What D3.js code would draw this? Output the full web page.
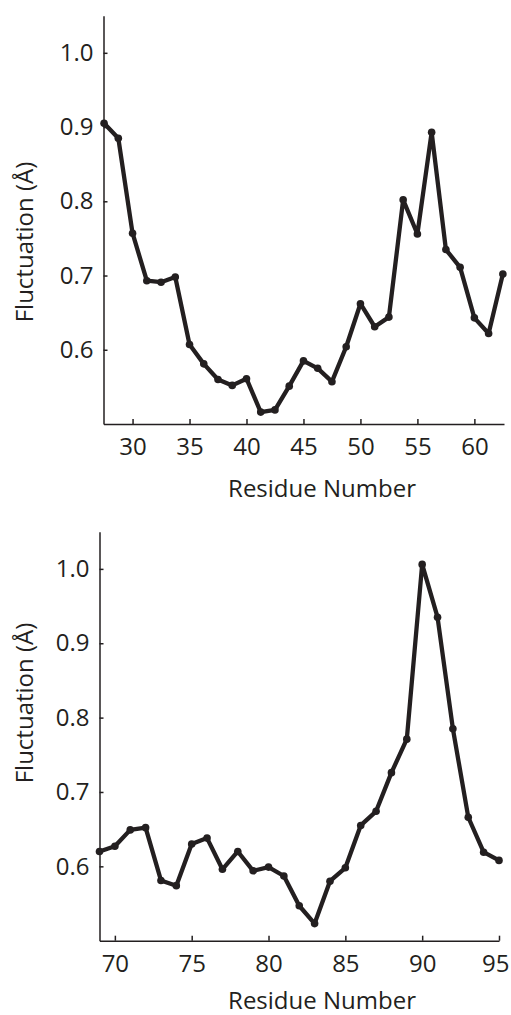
<!DOCTYPE html>
<html>
<head>
<meta charset="utf-8">
<script src="https://cdn.jsdelivr.net/npm/d3@7"></script>
<style>
  html, body { margin: 0; padding: 0; background: #fff; }
  svg { display: block; }
  text { font-family: "Open Sans", "Noto Sans", sans-serif; fill: #231f20; }
</style>
</head>
<body>
<svg id="chart" width="511" height="1015"></svg>
<script>
// Residue fluctuation profiles for two segments of the chain.
const residuesA = [27.5, 28.75, 30, 31.25, 32.5, 33.75, 35, 36.25, 37.5, 38.75, 40, 41.25,
  42.5, 43.75, 45, 46.25, 47.5, 48.75, 50, 51.25, 52.5, 53.75, 55, 56.25, 57.5, 58.75,
  60, 61.25, 62.5];
const fluctA = [0.905, 0.885, 0.757, 0.693, 0.691, 0.698, 0.607, 0.581, 0.560, 0.552,
  0.561, 0.516, 0.519, 0.551, 0.585, 0.575, 0.557, 0.604, 0.662, 0.631, 0.644, 0.802,
  0.756, 0.893, 0.735, 0.711, 0.643, 0.622, 0.702];
const ticksXA = [30, 35, 40, 45, 50, 55, 60];

const residuesB = [69, 70, 71, 72, 73, 74, 75, 76, 77, 78, 79, 80, 81, 82, 83, 84, 85,
  86, 87, 88, 89, 90, 91, 92, 93, 94, 95];
const fluctB = [0.620, 0.627, 0.649, 0.652, 0.581, 0.574, 0.630, 0.638, 0.596, 0.620,
  0.594, 0.599, 0.587, 0.547, 0.523, 0.580, 0.598, 0.655, 0.674, 0.726, 0.771, 1.006,
  0.935, 0.785, 0.666, 0.619, 0.608];
const ticksXB = [70, 75, 80, 85, 90, 95];

const ticksY = [0.6, 0.7, 0.8, 0.9, 1.0];
const yLabel = "Fluctuation (Å)";
const xLabel = "Residue Number";

const ink = "#231f20";
const width = 511;
const svg = d3.select("#chart");

function panel(cfg) {
  const x = d3.scaleLinear().domain(cfg.xDomain).range([cfg.left, cfg.right]);
  const y = d3.scaleLinear().domain([0.5, 1.05]).range([cfg.bottom, cfg.top]);
  const g = svg.append("g");

  const xAxis = g.append("g")
    .attr("transform", `translate(0,${cfg.bottom})`)
    .call(d3.axisBottom(x).tickValues(cfg.xTicks).tickFormat(d3.format("d"))
      .tickSizeInner(-5).tickSizeOuter(0).tickPadding(14));
  const yAxis = g.append("g")
    .attr("transform", `translate(${cfg.left},0)`)
    .call(d3.axisLeft(y).tickValues(ticksY).tickFormat(d3.format(".1f"))
      .tickSizeInner(-4).tickSizeOuter(0).tickPadding(10));

  [xAxis, yAxis].forEach(a => {
    a.select(".domain").attr("stroke", ink).attr("stroke-width", 1.5);
    a.selectAll(".tick line").attr("stroke", ink).attr("stroke-width", 1.5);
    a.selectAll(".tick text").attr("fill", ink)
      .style("font-family", '"Open Sans", sans-serif').style("font-size", "24px");
  });

  // keep the last tick label inside the drawing area
  xAxis.selectAll(".tick").each(function (d) {
    const t = d3.select(this).select("text");
    const bb = t.node().getBBox();
    const right = x(d) + bb.x + bb.width;
    if (right > width - 2) t.attr("x", (width - 2) - right);
  });

  const pts = cfg.xs.map((r, i) => [r, cfg.ys[i]]);
  g.append("path")
    .datum(pts)
    .attr("fill", "none")
    .attr("stroke", ink)
    .attr("stroke-width", 4.3)
    .attr("stroke-linejoin", "round")
    .attr("d", d3.line().x(d => x(d[0])).y(d => y(d[1])));

  g.selectAll("circle.pt")
    .data(pts)
    .join("circle")
    .attr("class", "pt")
    .attr("cx", d => x(d[0]))
    .attr("cy", d => y(d[1]))
    .attr("r", 3.8)
    .attr("fill", ink);

  g.append("text")
    .attr("x", 322)
    .attr("y", cfg.xLabelY)
    .attr("text-anchor", "middle")
    .style("font-size", "24px")
    .text(xLabel);

  g.append("text")
    .attr("transform", `translate(33,${cfg.labelY}) rotate(-90)`)
    .attr("text-anchor", "middle")
    .style("font-size", "24px")
    .text(yLabel);
}

panel({ xs: residuesA, ys: fluctA, xDomain: [27.45, 62.6], xTicks: ticksXA,
  left: 103.5, right: 504, top: 15.7, bottom: 424, labelY: 242, xLabelY: 497 });
panel({ xs: residuesB, ys: fluctB, xDomain: [69, 95], xTicks: ticksXB,
  left: 99.5, right: 499, top: 531.7, bottom: 940.7, labelY: 703, xLabelY: 1009 });
</script>
</body>
</html>
